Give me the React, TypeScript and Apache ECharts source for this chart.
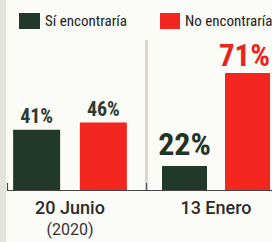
import React, { useEffect, useRef } from "react";
import * as echarts from "echarts";

const periods = ["20 Junio", "13 Enero"];
const periodNotes = ["(2020)", ""];
const siEncontraria = [41, 22];
const noEncontraria = [46, 71];
const seriesNames = ["Sí encontraría", "No encontraría"];

const GREEN = "#20392a";
const RED = "#f3261f";
const NARROW = "'Liberation Sans Narrow', 'Roboto Condensed', sans-serif";

export default function App() {
  const ref = useRef<HTMLDivElement>(null);
  useEffect(() => {
    const chart = echarts.init(ref.current!, null, { renderer: "svg" });
    const catLabel = (i: number) =>
      periodNotes[i] ? `{a|${periods[i]}}\n{b|${periodNotes[i]}}` : `{a|${periods[i]}}`;
    const xAxisBase = {
      type: "category" as const,
      axisLine: { show: false },
      axisTick: { show: false },
      axisLabel: {
        margin: 7,
        formatter: (v: string) => v,
        rich: {
          a: { fontFamily: "Roboto", fontWeight: 500, fontSize: 18, color: "#2b2b2b", lineHeight: 20 },
          b: { fontFamily: "Roboto", fontSize: 16, color: "#333", lineHeight: 24 },
        },
      },
    };
    chart.setOption({
      animation: false,
      backgroundColor: "#fbfbf8",
      legend: [
        {
          data: [seriesNames[0]], left: 14, top: 8, itemWidth: 21, itemHeight: 16, icon: "rect",
          selectedMode: false, textStyle: { fontFamily: NARROW, fontSize: 15, color: "#222" },
        },
        {
          data: [seriesNames[1]], left: 155, top: 8, itemWidth: 20, itemHeight: 16, icon: "rect",
          selectedMode: false, textStyle: { fontFamily: NARROW, fontSize: 15, color: "#222" },
        },
      ],
      grid: [
        { left: 7, right: 139, top: 43, bottom: 52 },
        { left: 160, right: -6, top: 0, bottom: 52 },
      ],
      xAxis: [
        { ...xAxisBase, gridIndex: 0, data: [catLabel(0)] },
        { ...xAxisBase, gridIndex: 1, data: [catLabel(1)] },
      ],
      yAxis: [
        { type: "value", gridIndex: 0, min: 0, max: 100, show: false, splitLine: { show: false } },
        { type: "value", gridIndex: 1, min: 9.4, max: 109.5, show: false, splitLine: { show: false } },
      ],
      graphic: [
        { type: "rect", shape: { x: 0, y: 0, width: 6, height: 242 }, style: { fill: "#e4e2dc" }, silent: true },
        { type: "rect", shape: { x: 145, y: 40, width: 3, height: 150 }, style: { fill: "#ddd6ce" }, silent: true },
        { type: "line", shape: { x1: 7, y1: 190.5, x2: 272, y2: 190.5 }, style: { stroke: "#444", lineWidth: 1.2 }, silent: true },
        { type: "line", shape: { x1: 7.5, y1: 183, x2: 7.5, y2: 191 }, style: { stroke: "#444", lineWidth: 1.2 }, silent: true },
        { type: "line", shape: { x1: 146.5, y1: 183, x2: 146.5, y2: 191 }, style: { stroke: "#555", lineWidth: 1.2 }, silent: true },
      ],
      series: [
        {
          name: seriesNames[0], type: "bar", xAxisIndex: 0, yAxisIndex: 0, data: [siEncontraria[0]],
          barWidth: 47, barGap: "42%", itemStyle: { color: GREEN },
          label: { show: true, position: "top", distance: 4, formatter: "{c}%", fontFamily: NARROW, fontWeight: "bold", fontSize: 20, color: "#2c3a31" },
        },
        {
          name: seriesNames[1], type: "bar", xAxisIndex: 0, yAxisIndex: 0, data: [noEncontraria[0]],
          barWidth: 47, barGap: "42%", itemStyle: { color: RED },
          label: { show: true, position: "top", distance: 3, formatter: "{c}%", fontFamily: NARROW, fontWeight: "bold", fontSize: 20, color: "#2c3a31" },
        },
        {
          name: seriesNames[0], type: "bar", xAxisIndex: 1, yAxisIndex: 1, data: [siEncontraria[1]],
          barWidth: 45, barGap: "40%", clip: true, itemStyle: { color: GREEN },
          label: { show: true, position: "top", distance: 6, formatter: "{c}%", fontFamily: NARROW, fontWeight: "bold", fontSize: 32, color: "#1f3627" },
        },
        {
          name: seriesNames[1], type: "bar", xAxisIndex: 1, yAxisIndex: 1, data: [noEncontraria[1]],
          barWidth: 45, barGap: "40%", clip: true, itemStyle: { color: RED },
          label: { show: true, position: "top", distance: 2, offset: [-3, 0], formatter: "{c}%", fontFamily: NARROW, fontWeight: "bold", fontSize: 31, color: "#e9241c" },
        },
      ],
    });
    return () => chart.dispose();
  }, []);
  return <div ref={ref} style={{ width: 272, height: 242, position: "fixed", left: 0, top: 0 }} />;
}
